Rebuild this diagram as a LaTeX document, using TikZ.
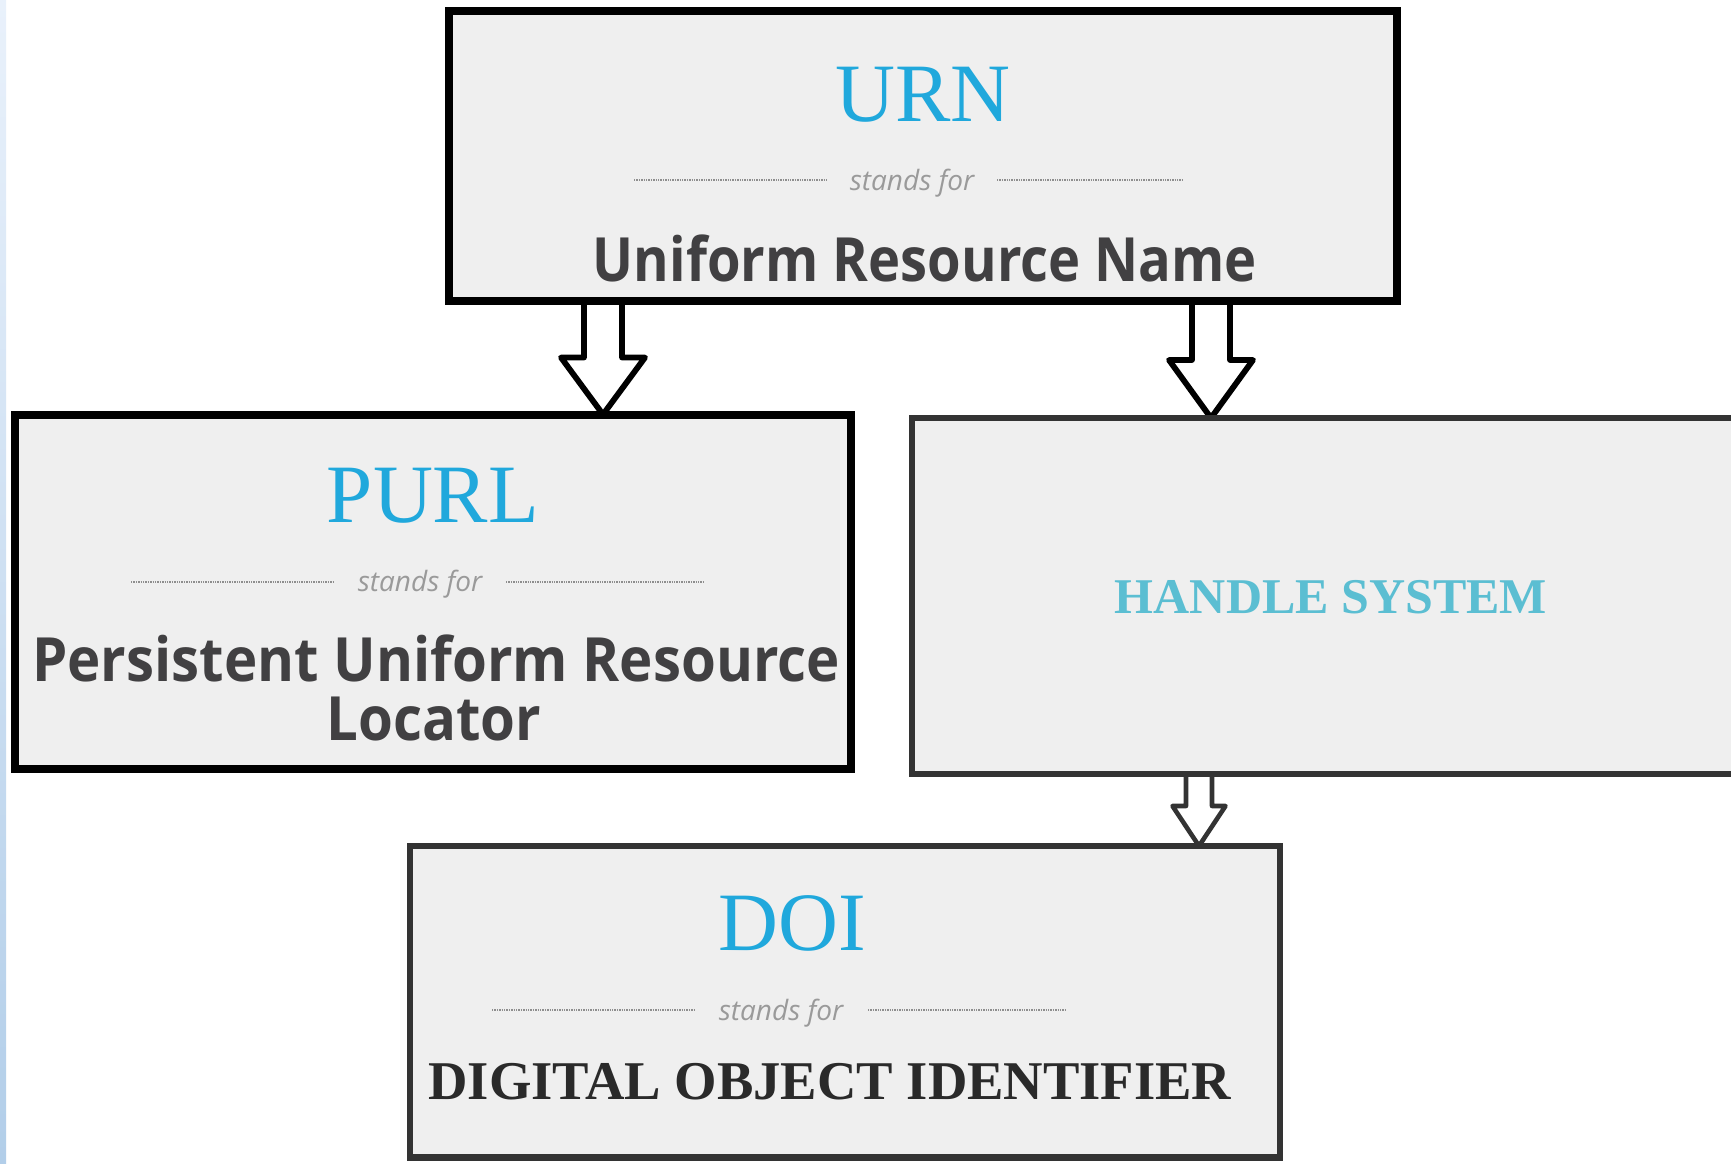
\documentclass[tikz,border=0pt]{standalone}
\usepackage{fontspec}
\usepackage{graphicx}
\usetikzlibrary{calc}
\newfontfamily\titlefont{Liberation Serif}
\newfontfamily\standsfont{Open Sans}
\newfontfamily\boldsans{Open Sans}
\newfontfamily\boldserif{Liberation Serif}
\definecolor{titleblue}{HTML}{20A8DC}
\definecolor{handleteal}{HTML}{5BBED2}
\definecolor{darktext}{HTML}{414042}
\definecolor{serifdark}{HTML}{2A2A2A}
\definecolor{standsgray}{HTML}{9A9A9A}
\definecolor{dotgray}{HTML}{8E8E8E}
\definecolor{boxfill}{HTML}{EFEFEF}
\definecolor{bordergray}{HTML}{333333}
\definecolor{stripTop}{HTML}{E9F1FB}
\definecolor{stripBot}{HTML}{B2CEE9}
\pgfdeclarelayer{bglayer}
\pgfdeclarelayer{arrowlayer}
\pgfsetlayers{bglayer,arrowlayer,main}
\newcommand\hollowarrow[6]{%
  \draw[#1] ($(#2)+(-#4,0)$) -- ($(#3)+(-#4,-#6)$) -- ($(#3)+(-#5,-#6)$) -- (#3)
    -- ($(#3)+(#5,-#6)$) -- ($(#3)+(#4,-#6)$) -- ($(#2)+(#4,0)$) -- cycle;}
\tikzset{
  boxblack/.style={draw=black, fill=boxfill, line width=4pt, inner sep=0pt, outer sep=0pt, rectangle},
  boxgray/.style={draw=bordergray, fill=boxfill, line width=3.2pt, inner sep=0pt, outer sep=0pt, rectangle},
  titletext/.style={inner sep=0pt, anchor=base, text=titleblue, font=\titlefont\fontsize{41.5}{45}\selectfont},
  standstext/.style={inner sep=0pt, anchor=base, text=standsgray, font=\standsfont\itshape\fontsize{14}{16}\selectfont},
  sansname/.style={inner sep=0pt, anchor=base, text=darktext, font=\boldsans\bfseries\fontsize{30.5}{34}\selectfont},
  serifname/.style={inner sep=0pt, anchor=base, text=serifdark, font=\boldserif\bfseries\fontsize{27.3}{32}\selectfont},
  handletext/.style={inner sep=0pt, anchor=base, text=handleteal, font=\boldserif\bfseries\fontsize{25}{30}\selectfont},
  dotline/.style={draw=dotgray, line width=1.2pt, dash pattern=on 0.7pt off 0.5pt},
  blockblack/.style={draw=black, fill=white, line width=2.9pt, line join=round},
  blockgray/.style={draw=bordergray, fill=white, line width=2.3pt, line join=round}
}
\begin{document}
\begin{tikzpicture}[x=0.5pt,y=-0.5pt]
\useasboundingbox (0,0) rectangle (1731,1163);
\clip (0,0) rectangle (1731,1163);
\begin{pgfonlayer}{bglayer}
  \fill[white] (0,0) rectangle (1731,1163);
  \shade[top color=stripTop, bottom color=stripBot] (0,0) rectangle (6,1163);
\end{pgfonlayer}

% boxes
\node[boxblack, minimum width=474pt, minimum height=145.25pt] (urn) at (923,155.75) {};
\node[boxblack, minimum width=418pt, minimum height=177.25pt] (purl) at (433,591.75) {};
\node[boxgray, minimum width=434pt, minimum height=178pt] (handle) at (1346,596) {};
\node[boxgray, minimum width=435pt, minimum height=155.75pt] (doi) at (845,1001.75) {};

% URN texts
\node[titletext] (urnT) at (923,121.5) {URN};
\node[standstext] (urnS) at (912,190) {stands for};
\draw[dotline] (634,180) -- (828,180);
\draw[dotline] (997,180) -- (1183,180);
\node[sansname] (urnN) at (925,281.5) {\scalebox{0.89}[1]{Uniform Resource Name}};

% PURL texts
\node[titletext] (purlT) at (433,522) {PURL};
\node[standstext] (purlS) at (420,591) {stands for};
\draw[dotline] (131,582) -- (333,582);
\draw[dotline] (506,582) -- (704,582);
\node[sansname] (purlN1) at (436,681) {\scalebox{0.924}[1]{Persistent Uniform Resource}};
\node[sansname] (purlN2) at (434,740) {\scalebox{0.924}[1]{Locator}};

% HANDLE
\node[handletext] (handleT) at (1331,613) {HANDLE SYSTEM};

% DOI texts
\node[titletext] (doiT) at (792,950.5) {DOI};
\node[standstext] (doiS) at (781,1020) {stands for};
\draw[dotline] (492,1010) -- (694,1010);
\draw[dotline] (868,1010) -- (1065,1010);
\node[serifname] (doiN) at (830,1099.5) {DIGITAL OBJECT IDENTIFIER};

% arrows
\coordinate (a1x) at (603,0);
\coordinate (a2x) at (1211,0);
\coordinate (a3x) at (1199,0);
\coordinate (a1s) at ($(a1x |- urn.south)+(0,-10)$);
\coordinate (a1t) at (a1x |- purl.north);
\coordinate (a2s) at ($(a2x |- urn.south)+(0,-10)$);
\coordinate (a2t) at (a2x |- handle.north);
\coordinate (a3s) at ($(a3x |- handle.south)+(0,-10)$);
\coordinate (a3t) at (a3x |- doi.north);
\begin{pgfonlayer}{arrowlayer}
  \hollowarrow{blockblack}{a1s}{a1t}{19}{42}{57}
  \hollowarrow{blockblack}{a2s}{a2t}{19}{42}{58}
  \hollowarrow{blockgray}{a3s}{a3t}{13}{26.5}{40}
\end{pgfonlayer}
\end{tikzpicture}
\end{document}
